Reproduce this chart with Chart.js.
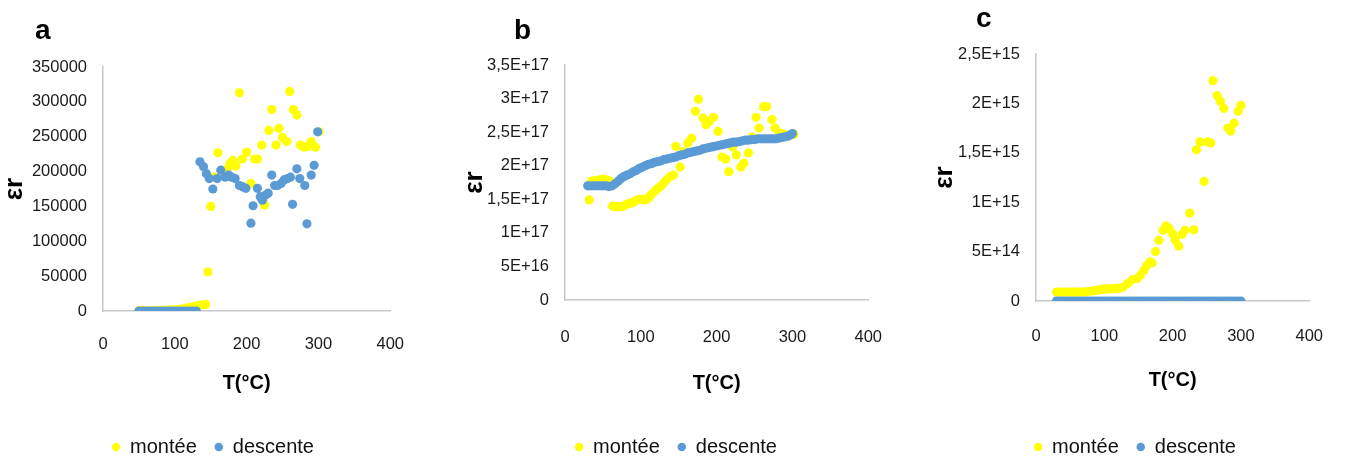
<!DOCTYPE html>
<html>
<head>
<meta charset="utf-8">
<script src="https://cdn.jsdelivr.net/npm/chart.js@4.4.0/dist/chart.umd.min.js"></script>
<style>
  body { margin: 0; background: #fff; width: 1349px; height: 457px; position: relative; overflow: hidden; }
  .box { position: absolute; top: 0; height: 467px; }
  .tag { position: absolute; font: bold 28px 'Liberation Sans', Arial, sans-serif; line-height: 28px; color: #000; }
</style>
</head>
<body>
<div class="box" style="left:0px;width:428px"><canvas id="chartA"></canvas></div>
<div class="box" style="left:440px;width:470px"><canvas id="chartB"></canvas></div>
<div class="box" style="left:925px;width:424px"><canvas id="chartC"></canvas></div>
<div class="tag" style="left:35px;top:16px">a</div>
<div class="tag" style="left:514px;top:16px">b</div>
<div class="tag" style="left:976px;top:4px">c</div>
<script>
// x axis (same on the three panels)
const xTicks = [0, 100, 200, 300, 400];

// ---- panel a : raw values
const tA_montee = [50,55,60,65,70,75,80,85,90,95,100,105,110,115,120,125,130,135,140,143,146,150,155,160,166,173,177,181,185,190,194,200,206,211,215,221,225,231,235,241,245,250,256,260,265,270,275,280,285,290,296,301];
const epsA_montee = [500,500,600,600,700,800,900,1000,1200,1500,1800,2200,3000,4000,5000,6000,7500,8500,9000,9500,56000,150000,192000,227000,200000,204000,212000,216000,208000,313000,218000,228000,183000,218000,218000,238000,152000,259000,289000,238000,262000,249000,243000,315000,289000,281000,238000,235000,236000,243000,235000,257000];
const tA_descente = [50,55,60,65,70,75,80,85,90,95,100,105,110,115,120,125,130,135,140,144,148,153,159,164,170,175,179,184,190,195,199,206,209,215,219,222,226,230,235,239,243,248,252,257,261,264,270,274,281,284,290,294,299];
const epsA_descente = [0,0,0,0,0,0,0,0,0,0,0,0,0,0,0,0,0,214000,207000,197000,190000,175000,190000,202000,192000,195000,192000,190000,180000,178000,176000,126000,151000,176000,164000,159000,166000,169000,195000,180000,180000,183000,188000,190000,192000,153000,204000,190000,180000,125000,195000,209000,257000];
const yTicksA = [0,50000,100000,150000,200000,250000,300000,350000];
const yLabelsA = ['0','50000','100000','150000','200000','250000','300000','350000'];

// ---- panel b : values in units of 1E+17
const tB_montee = [32,35,40,45,50,55,58,63,66,69,72,76,79,82,86,89,92,95,99,102,105,108,111,113,117,121,126,130,134,139,143,146,152,156,162,167,172,176,182,186,190,196,202,207,212,216,221,226,232,236,242,247,252,256,262,266,273,277,283,288,292,297,302];
const epsB_montee = [1.49,1.77,1.78,1.79,1.80,1.79,1.78,1.40,1.39,1.39,1.39,1.39,1.41,1.43,1.44,1.45,1.47,1.49,1.50,1.50,1.49,1.50,1.53,1.56,1.61,1.65,1.69,1.74,1.79,1.84,1.86,2.29,1.98,2.21,2.34,2.41,2.81,2.99,2.71,2.61,2.66,2.72,2.51,2.13,2.10,1.91,2.28,2.16,1.98,2.04,2.19,2.43,2.72,2.56,2.88,2.88,2.69,2.56,2.49,2.47,2.46,2.45,2.47];
const tB_descente = [30,34,38,42,46,50,54,58,62,66,70,74,78,82,86,90,94,98,102,106,110,114,118,122,126,130,134,138,142,146,150,154,158,162,166,170,174,178,182,186,190,194,198,202,206,210,214,218,222,226,230,234,238,242,246,250,254,258,262,266,270,274,278,282,286,290,294,298,300];
const epsB_descente = [1.70,1.70,1.70,1.70,1.70,1.70,1.70,1.69,1.70,1.73,1.77,1.81,1.84,1.86,1.88,1.91,1.93,1.96,1.98,2.00,2.02,2.03,2.05,2.06,2.07,2.09,2.10,2.11,2.12,2.13,2.15,2.16,2.17,2.19,2.20,2.21,2.22,2.23,2.25,2.26,2.27,2.28,2.29,2.30,2.31,2.32,2.33,2.34,2.35,2.35,2.36,2.37,2.38,2.38,2.39,2.39,2.40,2.40,2.40,2.40,2.40,2.40,2.40,2.41,2.42,2.43,2.44,2.46,2.48];
const yTicksB = [0,0.5,1,1.5,2,2.5,3,3.5];
const yLabelsB = ['0','5E+16','1E+17','1,5E+17','2E+17','2,5E+17','3E+17','3,5E+17'];

// ---- panel c : values in units of 1E+15
const tC_montee = [30,35,40,45,50,55,60,65,70,75,80,85,90,95,99,104,108,113,118,122,127,134,141,148,153,158,162,167,170,175,180,186,190,195,200,204,209,214,218,225,231,235,240,246,251,256,259,265,270,275,281,285,290,296,300];
const epsC_montee = [0.09,0.09,0.09,0.09,0.09,0.09,0.09,0.09,0.09,0.095,0.10,0.105,0.11,0.115,0.12,0.12,0.125,0.125,0.125,0.13,0.14,0.175,0.216,0.226,0.26,0.31,0.36,0.395,0.385,0.50,0.615,0.716,0.76,0.733,0.68,0.615,0.554,0.676,0.716,0.89,0.72,1.53,1.61,1.21,1.61,1.60,2.23,2.08,2.02,1.95,1.75,1.72,1.80,1.92,1.98];
const tC_descente = [30,35,40,45,50,55,60,65,70,75,80,85,90,95,100,105,110,115,120,125,130,135,140,145,150,155,160,165,170,175,180,185,190,195,200,205,210,215,220,225,230,235,240,245,250,255,260,265,270,275,280,285,290,295,300];
const epsC_descente = [0,0,0,0,0,0,0,0,0,0,0,0,0,0,0,0,0,0,0,0,0,0,0,0,0,0,0,0,0,0,0,0,0,0,0,0,0,0,0,0,0,0,0,0,0,0,0,0,0,0,0,0,0,0,0];
const yTicksC = [0,0.5,1,1.5,2,2.5];
const yLabelsC = ['0','5E+14','1E+15','1,5E+15','2E+15','2,5E+15'];

const sans = "'Liberation Sans', Arial, sans-serif";
const yellow = '#ffff00';
const blue = '#5b9bd5';

function toPoints(xs, ys) {
  return xs.map((x, i) => ({ x: x, y: ys[i] }));
}

function makePanel(id, p) {
  new Chart(document.getElementById(id), {
    type: 'scatter',
    data: {
      datasets: [
        { label: 'montée', data: toPoints(p.tUp, p.epsUp), backgroundColor: yellow, borderWidth: 0, pointRadius: 4.6, order: 1 },
        { label: 'descente', data: toPoints(p.tDown, p.epsDown), backgroundColor: blue, borderWidth: 0, pointRadius: 4.6, order: 0 }
      ]
    },
    options: {
      responsive: true,
      maintainAspectRatio: false,
      animation: false,
      layout: { padding: { left: p.padLeft, right: p.padRight, top: p.padTop, bottom: 0 } },
      plugins: {
        legend: {
          position: 'bottom',
          labels: {
            usePointStyle: true, boxWidth: 8, boxHeight: 6, padding: 18,
            color: '#111', font: { family: sans, size: 20 },
            sort: (a, b) => a.datasetIndex - b.datasetIndex
          }
        },
        tooltip: { enabled: false }
      },
      scales: {
        x: {
          type: 'linear', min: 0, max: 400,
          afterBuildTicks: s => { s.ticks = xTicks.map(v => ({ value: v })); },
          afterFit: s => { s.height = p.xHeight; },
          ticks: { padding: p.xTickPad, color: '#1a1a1a', font: { family: sans, size: 16.5 }, autoSkip: false, maxRotation: 0 },
          grid: { display: false, drawTicks: false },
          border: { color: '#c8c8c8', width: 1.5 },
          title: { display: true, text: 'T(°C)', color: '#000', padding: { top: 0, bottom: p.xTitlePad }, font: { family: sans, size: 20, weight: 'bold' } }
        },
        y: {
          type: 'linear', min: 0, max: p.yTicks[p.yTicks.length - 1],
          afterBuildTicks: s => { s.ticks = p.yTicks.map(v => ({ value: v })); },
          afterFit: s => { s.width = p.yWidth; },
          ticks: { padding: 16, color: '#1a1a1a', font: { family: sans, size: 16.5 }, callback: (v, i) => p.yLabels[i] },
          grid: { display: false, drawTicks: false },
          border: { color: '#c8c8c8', width: 1.5 },
          title: { display: true, text: 'εr', color: '#000', padding: { top: p.yTitlePad, bottom: 0 }, font: { family: sans, size: 26, weight: 'bold' } }
        }
      }
    }
  });
}

makePanel('chartA', {
  tUp: tA_montee, epsUp: epsA_montee, tDown: tA_descente, epsDown: epsA_descente,
  yTicks: yTicksA, yLabels: yLabelsA,
  padTop: 67, padLeft: 21, padRight: 23, yWidth: 82, yTitlePad: -21.6, xHeight: 108, xTickPad: 24, xTitlePad: 24
});
makePanel('chartB', {
  tUp: tB_montee, epsUp: epsB_montee, tDown: tB_descente, epsDown: epsB_descente,
  yTicks: yTicksB, yLabels: yLabelsB,
  padTop: 65, padLeft: 39, padRight: 37, yWidth: 86, yTitlePad: -19.6, xHeight: 119, xTickPad: 28, xTitlePad: 24
});
makePanel('chartC', {
  tUp: tC_montee, epsUp: epsC_montee, tDown: tC_descente, epsDown: epsC_descente,
  yTicks: yTicksC, yLabels: yLabelsC,
  padTop: 54, padLeft: 24, padRight: 28, yWidth: 87, yTitlePad: -19.6, xHeight: 118, xTickPad: 26, xTitlePad: 27
});
</script>
</body>
</html>
